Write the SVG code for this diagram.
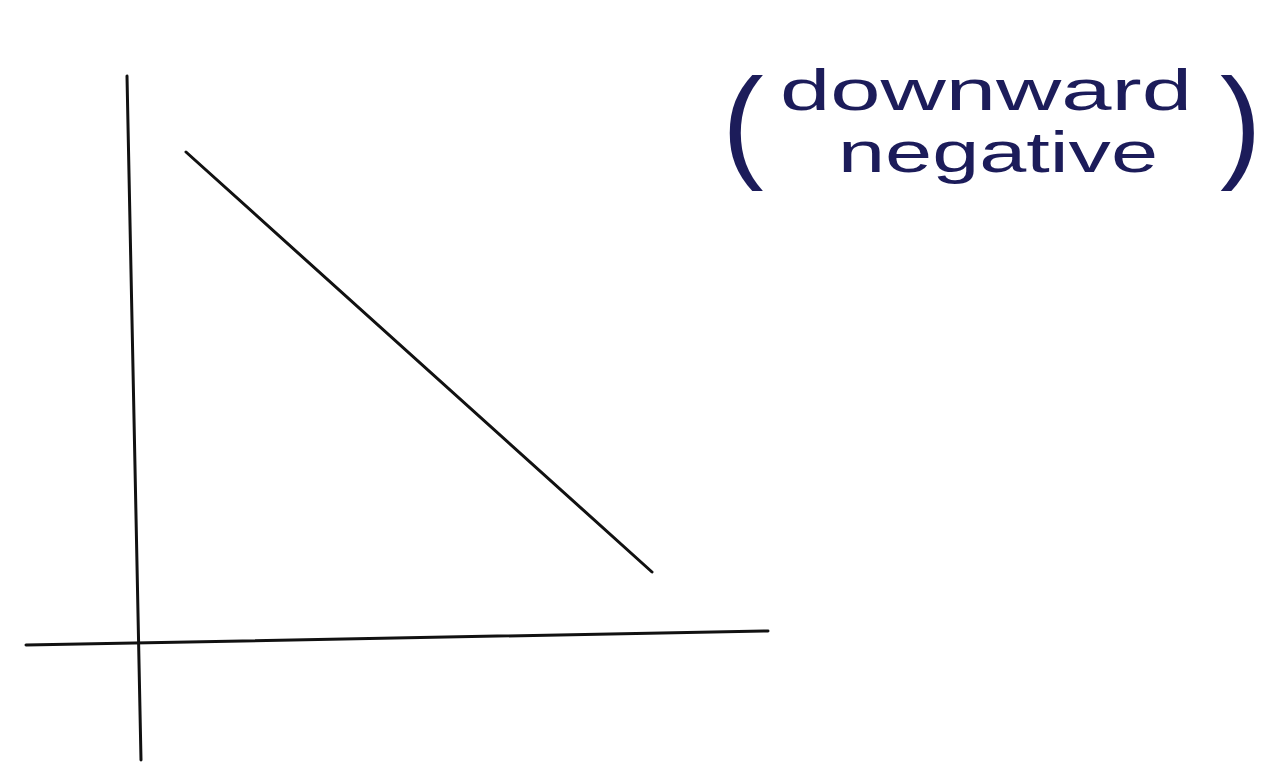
<svg xmlns="http://www.w3.org/2000/svg" width="1288" height="768" viewBox="0 0 1288 768">
<style>
.ax{stroke:#111;stroke-width:3;fill:none;stroke-linecap:round}
.hw{font-family:"Liberation Sans",sans-serif;fill:#1c1c5a}
</style>
<rect width="1288" height="768" fill="#ffffff"/>
<g id="axes">
<line class="ax" x1="127" y1="76" x2="141" y2="760"/>
<line class="ax" x1="26" y1="645" x2="768" y2="631"/>
</g>
<g id="connectors">
<line class="ax" x1="186" y1="152" x2="652" y2="572"/>
</g>
<g id="label">
<text class="hw" x="722" y="165" font-size="125" font-weight="300">(</text>
<text class="hw" x="1220" y="165" font-size="125" font-weight="300">)</text>
<text class="hw" x="780" y="110" font-size="58" textLength="412" lengthAdjust="spacingAndGlyphs">downward</text>
<text class="hw" x="838" y="172" font-size="58" textLength="320" lengthAdjust="spacingAndGlyphs">negative</text>
</g>
</svg>
